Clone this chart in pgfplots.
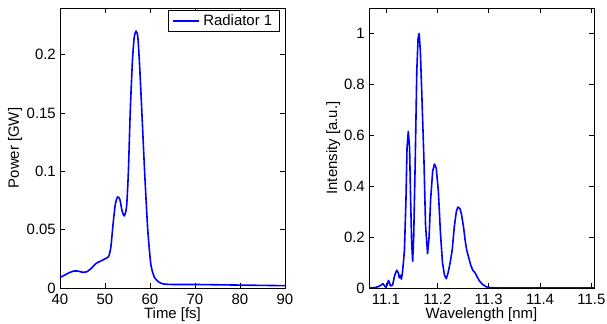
\documentclass[border=0pt]{standalone}
\usepackage{fontspec}
\setmainfont{Liberation Sans}
\usepackage{pgfplots}
\pgfplotsset{compat=1.18}
\definecolor{mblue}{rgb}{0,0,1}
\begin{document}
\begin{tikzpicture}
\pgfplotsset{
  myax/.style={
    scale only axis,
    width=225bp, height=280bp,
    axis line style={line width=0.8bp},
    tick style={line width=0.6bp, black},
    major tick length=5bp,
    tick align=inside,
    xtick pos=both, ytick pos=both,
    /pgf/number format/assume math mode=true,
    tick label style={font=\fontsize{15}{17}\selectfont},
    xticklabel style={inner sep=0pt, yshift=-6bp, anchor=north},
    yticklabel style={inner sep=0pt, xshift=-4bp, anchor=east},
    label style={font=\fontsize{15}{17}\selectfont},
    x label style={at={(axis description cs:0.5,-0.0964)}, anchor=center},
  }
}
\begin{axis}[myax,
  xmin=40, xmax=90, ymin=0, ymax=0.24,
  xtick={40,50,60,70,80,90},
  ytick={0,0.05,0.1,0.15,0.2},
  yticklabels={0,0.05,0.1,0.15,0.2},
  xlabel={Time [fs]}, ylabel={Power [GW]},
  y label style={at={(axis description cs:-0.2,0.5)}, anchor=center},
  legend style={at={(rel axis cs:0.978,0.993)}, anchor=north east,
    draw=black, line width=0.6bp,
    font=\fontsize{15}{17}\selectfont, inner xsep=4bp, inner ysep=2.5bp,
    nodes={inner xsep=3.5bp, inner ysep=2bp}, cells={anchor=west}},
  legend image code/.code={\draw[mblue, line width=1.6bp] (0bp,0bp) -- (26bp,0bp);},
]
\addplot[color=mblue, line width=1.6bp, smooth, tension=0.4] coordinates {
(40,0.009) (41,0.011) (42,0.013) (43,0.0145) (44,0.0145) (45,0.0135) (46,0.014)
(47,0.017) (48,0.021) (49,0.023) (50,0.025) (50.8,0.027) (51.3,0.035) (51.8,0.055)
(52.3,0.072) (52.8,0.078) (53.3,0.076) (53.8,0.066) (54.3,0.062) (54.8,0.07)
(55.2,0.1) (55.6,0.15) (56.1,0.195) (56.5,0.215) (56.9,0.22) (57.3,0.215)
(57.7,0.19) (58.2,0.15) (58.8,0.10) (59.5,0.05) (60.2,0.02) (61,0.009) (62,0.005)
(63,0.0035) (65,0.003) (70,0.003) (80,0.0025) (90,0.002)
};
\addlegendentry{Radiator 1}
\end{axis}
\begin{axis}[myax, at={(309bp,0)},
  xmin=11.067, xmax=11.505, ymin=0, ymax=1.1,
  xtick={11.1,11.2,11.3,11.4,11.5},
  xticklabels={11.1,11.2,11.3,11.4,11.5},
  ytick={0,0.2,0.4,0.6,0.8,1},
  yticklabels={0,0.2,0.4,0.6,0.8,1},
  xlabel={Wavelength [nm]}, ylabel={Intensity [a.u.]},
  y label style={at={(axis description cs:-0.159,0.5)}, anchor=center},
]
\addplot[color=mblue, line width=1.6bp, line join=round] coordinates {
(11.067,0) (11.080,0.002) (11.088,0.008) (11.094,0.017) (11.099,0.004) (11.102,0.010)
(11.105,0.030) (11.109,0.008) (11.113,0.012) (11.117,0.050) (11.121,0.070)
(11.124,0.060) (11.126,0.040) (11.128,0.050) (11.130,0.035) (11.132,0.060)
(11.134,0.100) (11.136,0.150) (11.139,0.350) (11.141,0.550) (11.1435,0.615)
(11.146,0.550) (11.148,0.350) (11.150,0.180) (11.152,0.105) (11.154,0.200)
(11.157,0.500) (11.160,0.850) (11.1625,0.980) (11.1646,1.0) (11.167,0.930)
(11.170,0.750) (11.174,0.500) (11.177,0.250) (11.181,0.135) (11.184,0.200)
(11.187,0.350) (11.191,0.460) (11.1945,0.487) (11.198,0.470) (11.202,0.380)
(11.206,0.220) (11.210,0.100) (11.214,0.050) (11.2175,0.037) (11.221,0.060)
(11.225,0.100) (11.229,0.150) (11.233,0.240) (11.237,0.300) (11.240,0.318)
(11.244,0.312) (11.247,0.290) (11.251,0.240) (11.254,0.190) (11.257,0.150)
(11.261,0.120) (11.265,0.090) (11.269,0.070) (11.273,0.062) (11.277,0.045)
(11.282,0.028) (11.288,0.014) (11.295,0.005) (11.300,0.002) (11.32,0) (11.505,0)
};
\end{axis}
\pgfresetboundingbox
\path (-60bp,-36bp) rectangle (547bp,288bp);
\end{tikzpicture}
\end{document}
